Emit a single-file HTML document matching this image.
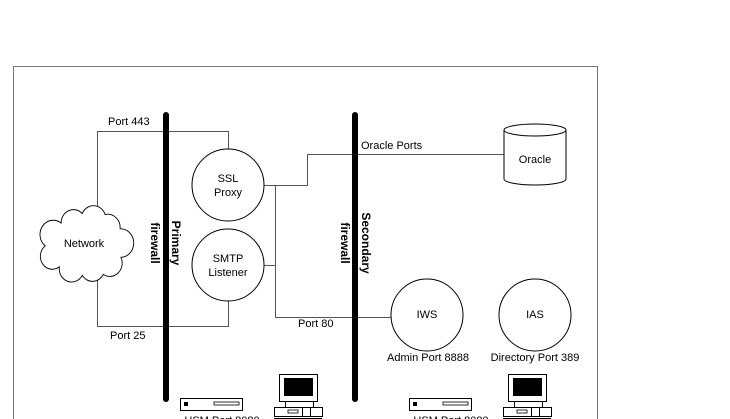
<!DOCTYPE html>
<html><head><style>
html,body{margin:0;padding:0;background:#fff;}
svg{display:block;font-family:"Liberation Sans",sans-serif;}
</style></head><body>
<svg width="730" height="419" viewBox="0 0 730 419" xmlns="http://www.w3.org/2000/svg">
<rect x="0" y="0" width="730" height="419" fill="#fff"/>
<path d="M13.5 430 V66.5 H597.5 V430" fill="none" stroke="#777" stroke-width="1"/>
<g stroke="#555" stroke-width="1" fill="none">
<path d="M97.5 212 V131.5 H228.5 V149"/>
<path d="M97.5 278 V326.5 H228.5 V301"/>
<path d="M264 185.5 H307.5 V154.5 H504"/>
<path d="M275.5 185 V317.5 H391"/>
<path d="M264 265.5 H275.5"/>
</g>
<g font-size="11" fill="#000">
<text x="108" y="125">Port 443</text>
<text x="110" y="339">Port 25</text>
<text x="298" y="327">Port 80</text>
<text x="361" y="149">Oracle Ports</text>
</g>
<path transform="translate(84,244) scale(0.88,0.95) translate(-84,-244)" d="M58 222 A14 14 0 0 1 82 212 A14 14 0 0 1 108 213 A14 14 0 0 1 125 228 A13 13 0 0 1 126 258 A14 14 0 0 1 106 276 A14 14 0 0 1 82 277 A14 14 0 0 1 56 268 A13 13 0 0 1 40 246 A13 13 0 0 1 58 222 Z" fill="#fff" stroke="#000" stroke-width="1"/>
<text x="84" y="247" font-size="11" text-anchor="middle">Network</text>
<line x1="166" y1="115" x2="166" y2="399" stroke="#000" stroke-width="6" stroke-linecap="round"/>
<line x1="355" y1="115" x2="355" y2="399" stroke="#000" stroke-width="6" stroke-linecap="round"/>
<g font-size="12" font-weight="bold">
<text transform="translate(172,243) rotate(90)" text-anchor="middle">Primary</text>
<text transform="translate(151,243) rotate(90)" text-anchor="middle">firewall</text>
<text transform="translate(362,243) rotate(90)" text-anchor="middle">Secondary</text>
<text transform="translate(341,243) rotate(90)" text-anchor="middle">firewall</text>
</g>
<g fill="#fff" stroke="#000" stroke-width="1">
<circle cx="228" cy="185" r="36"/>
<circle cx="228" cy="265" r="36"/>
<circle cx="427" cy="315" r="36"/>
<circle cx="535" cy="315" r="36"/>
<path d="M504 130 V179 A31 6 0 0 0 566 179 V130"/>
<ellipse cx="535" cy="130" rx="31" ry="6"/>
</g>
<g font-size="11" text-anchor="middle">
<text x="228" y="182">SSL</text><text x="228" y="196">Proxy</text>
<text x="228" y="262">SMTP</text><text x="228" y="276">Listener</text>
<text x="427" y="318">IWS</text>
<text x="535" y="318">IAS</text>
<text x="535" y="163">Oracle</text>
<text x="428" y="361">Admin Port 8888</text>
<text x="535" y="361">Directory Port 389</text>
<text x="222" y="424">HSM Port 8080</text>
<text x="451" y="424">HSM Port 8080</text>
</g>
<g id="dev">
<rect x="180.5" y="398.5" width="62" height="12" fill="#fff" stroke="#000"/>
<rect x="184" y="402" width="4" height="4" fill="#000"/>
<rect x="214" y="402" width="25" height="3" fill="#fff" stroke="#000" stroke-width="0.8"/>
<rect x="279.5" y="374.5" width="38" height="27" fill="#fff" stroke="#000"/>
<rect x="284" y="378" width="29" height="18" fill="#000"/>
<rect x="285.5" y="401.5" width="28" height="6" fill="#fff" stroke="#000"/>
<rect x="274.5" y="407.5" width="48" height="9" fill="#fff" stroke="#000"/>
<line x1="274" y1="418.5" x2="322" y2="418.5" stroke="#000"/>
<rect x="288" y="410" width="10" height="3" fill="#fff" stroke="#000" stroke-width="0.8"/>
<line x1="302.5" y1="408" x2="302.5" y2="416" stroke="#000"/>
<line x1="310.5" y1="408" x2="310.5" y2="416" stroke="#000"/>
</g>
<use href="#dev" transform="translate(229,0)"/>
</svg>
</body></html>
